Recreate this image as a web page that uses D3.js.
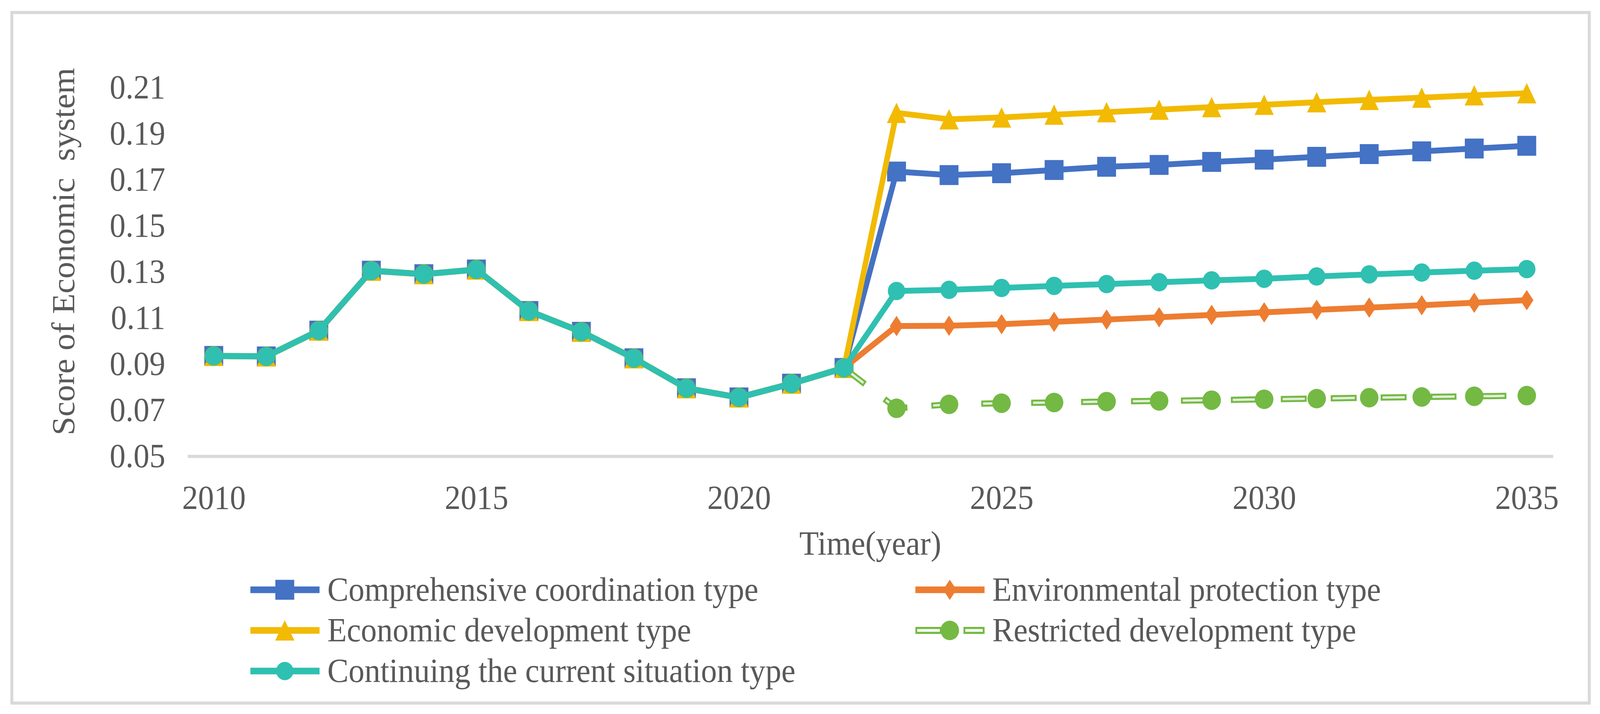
<!DOCTYPE html>
<html>
<head>
<meta charset="utf-8">
<script src="https://cdn.jsdelivr.net/npm/d3@7"></script>
<style>
  html, body { margin: 0; padding: 0; width: 100%; height: 100%; overflow: hidden; background: #fff; }
  #chart { width: 100%; height: 100%; }
  svg { display: block; }
  text { font-family: "Liberation Serif", "Times New Roman", serif; fill: #595959; }
</style>
</head>
<body>
<div id="chart"></div>
<script>
// categories
const years = [2010, 2011, 2012, 2013, 2014, 2015, 2016, 2017, 2018, 2019, 2020, 2021, 2022,
               2023, 2024, 2025, 2026, 2027, 2028, 2029, 2030, 2031, 2032, 2033, 2034, 2035];
const xTicks = [2010, 2015, 2020, 2025, 2030, 2035];
const yTicks = [0.05, 0.07, 0.09, 0.11, 0.13, 0.15, 0.17, 0.19, 0.21];

// 2010-2022, same for every scenario
const history = [0.0935, 0.0933, 0.1045, 0.1305, 0.1290, 0.1310, 0.1130, 0.1040, 0.0925, 0.0795, 0.0755, 0.0815, 0.0883];

// 2023-2035 per scenario
const comprehensive = [0.1735, 0.1720, 0.1728, 0.1742, 0.1756, 0.1764, 0.1777, 0.1787, 0.1799, 0.1811, 0.1823, 0.1835, 0.1847];
const environmental = [0.1065, 0.1066, 0.1073, 0.1083, 0.1093, 0.1103, 0.1113, 0.1124, 0.1135, 0.1145, 0.1155, 0.1166, 0.1177];
const economic      = [0.1990, 0.1962, 0.1970, 0.1982, 0.1993, 0.2004, 0.2015, 0.2025, 0.2036, 0.2046, 0.2056, 0.2066, 0.2075];
const restricted    = [0.0708, 0.0725, 0.0730, 0.0733, 0.0737, 0.0740, 0.0743, 0.0747, 0.0750, 0.0754, 0.0757, 0.0760, 0.0763];
const continuing    = [0.1217, 0.1222, 0.1230, 0.1239, 0.1247, 0.1255, 0.1263, 0.1270, 0.1280, 0.1289, 0.1297, 0.1305, 0.1312];

const seriesNames = ["Comprehensive coordination type", "Environmental protection type",
                     "Economic development type", "Restricted development type",
                     "Continuing the current situation type"];

const W = 4326, H = 1828;
const plot = { left: 507, right: 4199, top: 224, bottom: 1168 };

const series = [
    { name: seriesNames[0], color: "#4472C4", marker: "square",   values: history.concat(comprehensive) },
    { name: seriesNames[1], color: "#ED7D31", marker: "diamond",  values: history.concat(environmental) },
    { name: seriesNames[2], color: "#F2BA02", marker: "triangle", values: history.concat(economic) },
    { name: seriesNames[3], color: "#74B944", marker: "dot",      values: history.concat(restricted), hollow: true },
    { name: seriesNames[4], color: "#2FC0B1", marker: "circle",   values: history.concat(continuing) }
];

// scale the drawing to whatever viewport the browser gives
const svg = d3.select("#chart")
    .append("svg")
    .attr("viewBox", `0 0 ${W} ${H}`)
    .attr("preserveAspectRatio", "none")
    .attr("width", "100%")
    .attr("height", "100%");

// chart border
svg.append("rect")
    .attr("x", 32).attr("y", 32)
    .attr("width", 4265).attr("height", 1768)
    .attr("fill", "#fff")
    .attr("stroke", "#d9d9d9")
    .attr("stroke-width", 8);

const x = d3.scalePoint()
    .domain(years)
    .range([plot.left, plot.right])
    .padding(0.5);

const y = d3.scaleLinear()
    .domain([0.05, 0.21])
    .range([plot.bottom, plot.top]);

// x axis
const gx = svg.append("g")
    .attr("transform", `translate(0, ${plot.bottom})`)
    .call(d3.axisBottom(x).tickValues(xTicks).tickSize(0).tickSizeOuter(0));
gx.select(".domain").attr("stroke", "#d9d9d9").attr("stroke-width", 8);
gx.selectAll("text")
    .attr("y", 135).attr("dy", null)
    .attr("font-size", 86)
    .attr("font-family", null)
    .attr("fill", null);

// y axis
const gy = svg.append("g")
    .attr("transform", `translate(${plot.left}, 0)`)
    .call(d3.axisLeft(y).tickValues(yTicks).tickFormat(d3.format(".2f")).tickSize(0).tickPadding(60));
gy.select(".domain").remove();
gy.selectAll("text")
    .attr("font-size", 86)
    .attr("font-family", null)
    .attr("fill", null);

// axis titles
svg.append("text")
    .attr("transform", "translate(201, 644) rotate(-90)")
    .attr("text-anchor", "middle")
    .attr("font-size", 86)
    .style("white-space", "pre")
    .text("Score of Economic  system");

svg.append("text")
    .attr("x", (plot.left + plot.right) / 2)
    .attr("y", 1420)
    .attr("text-anchor", "middle")
    .attr("font-size", 86)
    .text("Time(year)");

// marker shapes
function markerPath(kind) {
    if (kind === "square") return "M-25.5,-25.5H25.5V25.5H-25.5Z";
    if (kind === "triangle") return "M0,-26L26,26H-26Z";
    if (kind === "diamond") return "M0,-26L18,0L0,26L-18,0Z";
    if (kind === "circle") return d3.symbol(d3.symbolCircle, Math.PI * 23.5 * 23.5)();
    return d3.symbol(d3.symbolCircle, Math.PI * 25 * 25)();
}

const line = d3.line()
    .x(d => x(d[0]))
    .y(d => y(d[1]));

const DASH_OUT = "70,65", DASH_IN = "60,75";

series.forEach(s => {
    const pts = years.map((yr, i) => [yr, s.values[i]]);
    const g = svg.append("g");
    if (s.hollow) {
        const past = pts.slice(0, history.length);
        const future = pts.slice(history.length - 1);
        g.append("path").attr("d", line(past))
            .attr("fill", "none").attr("stroke", s.color).attr("stroke-width", 16)
            .attr("stroke-linejoin", "round");
        g.append("path").attr("d", line(past))
            .attr("fill", "none").attr("stroke", "#e2eed9").attr("stroke-width", 6)
            .attr("stroke-linejoin", "round");
        g.append("path").attr("d", line(future))
            .attr("fill", "none").attr("stroke", s.color).attr("stroke-width", 16)
            .attr("stroke-dasharray", DASH_OUT);
        g.append("path").attr("d", line(future))
            .attr("fill", "none").attr("stroke", "#e2eed9").attr("stroke-width", 6)
            .attr("stroke-dasharray", DASH_IN).attr("stroke-dashoffset", -5);
    } else {
        g.append("path").attr("d", line(pts))
            .attr("fill", "none").attr("stroke", s.color).attr("stroke-width", 15)
            .attr("stroke-linejoin", "round");
    }
    g.selectAll("path.mk")
        .data(pts)
        .join("path")
        .attr("class", "mk")
        .attr("transform", d => `translate(${x(d[0])}, ${y(d[1])})`)
        .attr("d", markerPath(s.marker))
        .attr("fill", s.color);
});

// legend
const legendCols = [770, 2568];
const legendRows = [1510, 1614, 1718];
const legendPos = [[0, 0], [1, 0], [0, 1], [1, 1], [0, 2]];

series.forEach((s, i) => {
    const cx = legendCols[legendPos[i][0]];
    const cy = legendRows[legendPos[i][1]];
    const g = svg.append("g").attr("transform", `translate(${cx}, ${cy})`);
    if (s.hollow) {
        [[-93, -22], [37, 94]].forEach(seg => {
            g.append("line").attr("x1", seg[0]).attr("x2", seg[1])
                .attr("stroke", s.color).attr("stroke-width", 18);
            g.append("line").attr("x1", seg[0] + 5).attr("x2", seg[1] - 5)
                .attr("stroke", "#fff").attr("stroke-width", 7);
        });
    } else {
        g.append("line").attr("x1", -93).attr("x2", 94)
            .attr("stroke", s.color).attr("stroke-width", 17);
    }
    g.append("path").attr("d", markerPath(s.marker)).attr("fill", s.color);
    g.append("text")
        .attr("x", 115)
        .attr("y", 28)
        .attr("font-size", 86)
        .text(s.name);
});
</script>
</body>
</html>
